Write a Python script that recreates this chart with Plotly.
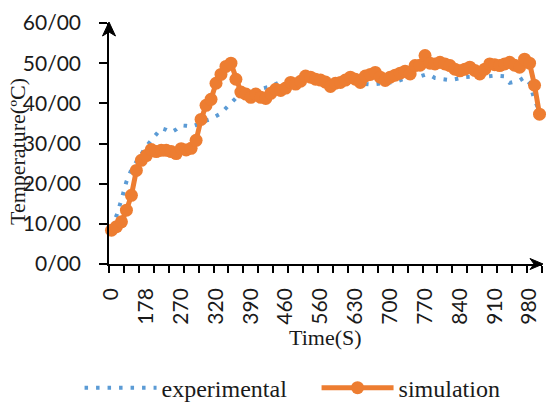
import plotly.graph_objects as go

# Temperature readings (ºC) at each sampled time step
experimental = [
    9.0, 12.0, 16.0, 20.5, 23.5, 25.5, 27.5, 29.3, 30.8, 32.3,
    33.8, 33.4, 32.8, 33.5, 34.5, 34.4, 34.2, 34.6, 35.2, 35.7,
    36.1, 36.8, 37.5, 38.8, 40.1, 41.3, 42.2, 42.8, 43.0, 43.3,
    43.5, 43.8, 44.2, 44.8, 45.4, 45.0, 45.2, 45.5, 45.6, 45.8,
    45.6, 45.5, 45.3, 45.0, 44.8, 44.9, 45.0, 45.2, 45.3, 45.1,
    44.9, 44.8, 44.7, 44.8, 45.0, 45.1, 45.2, 45.3, 45.8, 46.2,
    46.5, 46.6, 46.7, 47.1, 47.0, 46.3, 46.1, 46.0, 45.8, 46.0,
    46.3, 46.5, 46.6, 46.5, 46.4, 46.6, 46.8, 46.9, 46.8, 46.7,
    45.1, 45.4, 45.7, 46.5, 45.0, 40.9, 38.0,
]
simulation = [
    8.4, 9.3, 10.5, 13.4, 17.1, 23.3, 25.8, 27.0, 28.5, 28.0,
    28.3, 28.3, 28.0, 27.5, 28.7, 28.4, 28.8, 30.8, 36.0, 39.5,
    41.0, 45.0, 47.2, 49.2, 50.0, 46.0, 42.8, 42.3, 41.5, 42.3,
    41.5, 41.2, 42.5, 43.5, 43.2, 43.8, 45.2, 44.8, 45.5, 46.8,
    46.5, 46.0, 45.8, 45.3, 44.2, 45.0, 45.2, 45.8, 46.5, 46.0,
    45.2, 46.8, 47.2, 47.7, 46.5, 45.7, 46.5, 47.0, 47.5, 48.0,
    47.3, 49.4, 49.5, 51.9, 50.0, 49.8, 50.2, 49.8, 49.4, 48.5,
    48.1, 48.5, 49.0, 48.2, 47.3, 48.5, 49.8, 49.6, 49.4, 49.8,
    50.2, 49.5, 49.0, 51.0, 50.0, 44.5, 37.3,
]
# Time labels (s), one every seventh sample
time_labels = ["0", "178", "270", "320", "390", "460", "560",
               "630", "700", "770", "840", "910", "980"]
label_every = 7
tick_every = 3

y_ticks = [0, 10, 20, 30, 40, 50, 60]
y_tick_text = [f"{v}/00" for v in y_ticks]

steps = list(range(len(simulation)))
n = len(simulation)

BLUE = "#5B9BD5"
ORANGE = "#ED7D31"
TICK_FONT = dict(family="Lato", size=21, color="#1a1a1a")
SERIF = "Liberation Serif"

fig = go.Figure()
fig.add_trace(go.Scatter(
    x=steps, y=experimental, name="experimental", mode="lines",
    line=dict(color=BLUE, width=4, dash="3.5px,8px"),
    cliponaxis=False,
))
fig.add_trace(go.Scatter(
    x=steps, y=simulation, name="simulation", mode="lines+markers",
    line=dict(color=ORANGE, width=5),
    marker=dict(color=ORANGE, size=13),
    cliponaxis=False,
))

fig.update_xaxes(
    range=[-0.5, n - 0.5],
    tickmode="array",
    tickvals=[i * label_every for i in range(len(time_labels))],
    ticktext=time_labels,
    tickangle=-90,
    ticks="",
    ticklabelstandoff=14,
    tickfont=TICK_FONT,
    showline=True, linecolor="black", linewidth=1.5,
    showgrid=False, zeroline=False,
    minor=dict(tickmode="linear", tick0=-0.5, dtick=tick_every,
               ticks="outside", ticklen=7, tickwidth=1.5,
               tickcolor="black", showgrid=False),
)
fig.update_yaxes(
    range=[0, 60],
    tickmode="array",
    tickvals=y_ticks,
    ticktext=y_tick_text,
    ticks="outside", ticklen=8, tickwidth=1.5, tickcolor="black",
    ticklabelstandoff=14,
    tickfont=TICK_FONT,
    showline=True, linecolor="black", linewidth=1.5,
    showgrid=False, zeroline=False,
)

# Arrowheads at the ends of both axes (paper-anchored so they are not clipped)
fig.add_shape(type="path", xref="paper", yref="paper",
              xsizemode="pixel", ysizemode="pixel",
              xanchor=0, yanchor=1,
              path="M0,1 L-6.5,-13 L0,-9 L6.5,-13 Z",
              fillcolor="black", line=dict(color="black", width=1))
fig.add_shape(type="path", xref="paper", yref="paper",
              xsizemode="pixel", ysizemode="pixel",
              xanchor=1, yanchor=0,
              path="M1,0 L-12,5.5 L-8,0 L-12,-5.5 Z",
              fillcolor="black", line=dict(color="black", width=1))

fig.add_annotation(text="Temperature(ºC)", xref="paper", yref="paper",
                   x=-0.21, y=0.465, textangle=-90, showarrow=False,
                   xanchor="center", yanchor="middle",
                   font=dict(family=SERIF, size=22, color="#1a1a1a"))
fig.add_annotation(text="Time(S)", xref="paper", yref="paper",
                   x=0.5, y=-0.307, showarrow=False,
                   xanchor="center", yanchor="middle",
                   font=dict(family=SERIF, size=22, color="#1a1a1a"))

fig.update_layout(
    width=547, height=403,
    margin=dict(l=109, r=5, t=23, b=139, autoexpand=False),
    plot_bgcolor="white", paper_bgcolor="white",
    showlegend=True,
    legend=dict(orientation="h", x=-0.068, xanchor="left",
                y=-0.515, yanchor="middle",
                font=dict(family=SERIF, size=24, color="#1a1a1a"),
                itemwidth=72, entrywidth=150, traceorder="normal"),
)

fig.write_html("out.html")
